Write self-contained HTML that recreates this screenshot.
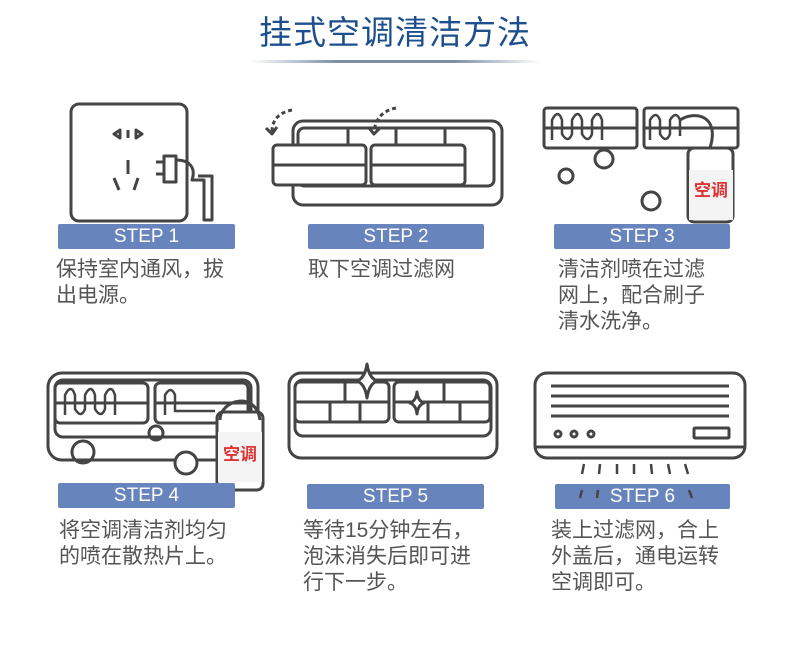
<!DOCTYPE html>
<html><head><meta charset="utf-8"><style>
body{margin:0;width:790px;height:653px;background:#fff;position:relative;overflow:hidden;font-family:"Liberation Sans","Noto Sans CJK SC",sans-serif}
.t{position:absolute;left:0;width:790px;top:6px;text-align:center;font-size:33px;color:#1d4f8f;letter-spacing:1px}
.ln{position:absolute;left:250px;top:60px;width:290px;height:3px;background:linear-gradient(90deg,rgba(120,140,165,0),#7d8ea5 30%,#7d8ea5 70%,rgba(120,140,165,0))}
.b{position:absolute;height:25px;background:#6884bd;color:#fff;font-size:19px;text-align:center;line-height:25px;border-radius:2px}
.d{position:absolute;font-size:21px;color:#555;line-height:26px}
svg{position:absolute;left:0;top:0}
</style></head><body>
<div class="t">挂式空调清洁方法</div>
<div class="ln"></div>
<svg width="790" height="653" fill="none" stroke="#444" stroke-width="3" stroke-linejoin="round">
<!-- step1 -->
<rect x="71" y="104" width="116" height="117" rx="8"/>
<path d="M120 130 l-6 4 6 4z M128 130 v8 M136 130 l6 4 -6 4z"/>
<path d="M128 160 v14 M114 178 l5 12 M138 178 l-4 12"/>
<path d="M156 162 h8 M156 174 h8 M164 156 h12 v26 h-12z M176 160 c14 0 20 8 16 20 h12 v40 h8 v-44 h-14"/>
<!-- step2 -->
<rect x="293" y="121" width="209" height="84" rx="10"/>
<rect x="298" y="128" width="196" height="58" rx="6"/>
<line x1="348" y1="128" x2="348" y2="146"/><line x1="445" y1="128" x2="445" y2="146"/><line x1="396" y1="128" x2="396" y2="186"/>
<rect x="273" y="145" width="93" height="40" rx="4" fill="#fff"/>
<rect x="371" y="145" width="94" height="40" rx="4" fill="#fff"/>
<line x1="273" y1="165" x2="366" y2="165"/><line x1="371" y1="165" x2="465" y2="165"/>
<path d="M292 110 q-20 4 -20 22" stroke-dasharray="4 3"/><path d="M266 128 l6 6 5-7"/>
<path d="M396 108 q-20 4 -22 24" stroke-dasharray="4 3"/><path d="M369 128 l5 6 6-6"/>
<!-- step3 -->
<rect x="544" y="108" width="93" height="40" rx="3"/><rect x="644" y="108" width="94" height="40" rx="3"/>
<line x1="544" y1="128" x2="637" y2="128"/><line x1="644" y1="128" x2="738" y2="128"/>
<path d="M552 140 v-20 q6 -12 10 0 v14 q6 10 10 0 v-14 q6 -12 10 0 v14 q6 10 10 0 v-14 q6 -12 10 0 v20" stroke-width="2.5"/>
<path d="M650 140 v-20 q6 -10 10 0 v14 q6 10 10 0 v-14 q6 -10 10 0 v16" stroke-width="2.5"/>
<circle cx="604" cy="159" r="9"/><circle cx="566" cy="176" r="7"/><circle cx="651" cy="201" r="9"/>
<path d="M680 120 c16 -10 40 -4 30 28" />
<rect x="688" y="148" width="45" height="74" rx="6" fill="#fff"/>
<!-- step4 -->
<rect x="48" y="373" width="210" height="87" rx="14"/>
<rect x="55" y="380" width="196" height="57" rx="8"/>
<rect x="55" y="383" width="93" height="40" rx="5"/><rect x="155" y="383" width="93" height="40" rx="5"/>
<line x1="55" y1="403" x2="148" y2="403"/><line x1="155" y1="403" x2="248" y2="403"/>
<path d="M65 415 v-20 q6 -12 10 0 v14 q6 10 10 0 v-14 q6 -12 10 0 v14 q6 10 10 0 v-14 q6 -12 10 0 v20" stroke-width="2.5"/>
<path d="M165 415 v-20 q6 -10 10 0 v16 h40" stroke-width="2.5"/>
<circle cx="156" cy="433" r="7"/><circle cx="83" cy="452" r="11"/><circle cx="186" cy="463" r="11" fill="#fff"/>
<rect x="217" y="412" width="46" height="78" rx="6" fill="#fff"/>
<path d="M220 420 c0 -20 36 -30 40 0"/>
<!-- step5 -->
<rect x="289" y="373" width="208" height="85" rx="12"/>
<rect x="295" y="380" width="196" height="56" rx="8"/>
<rect x="295" y="382" width="94" height="40" rx="5"/><rect x="394" y="382" width="96" height="40" rx="5"/>
<line x1="295" y1="402" x2="389" y2="402"/><line x1="394" y1="402" x2="490" y2="402"/>
<line x1="330" y1="402" x2="330" y2="422"/><line x1="360" y1="402" x2="360" y2="422"/><line x1="345" y1="382" x2="345" y2="402"/>
<line x1="428" y1="402" x2="428" y2="422"/><line x1="460" y1="402" x2="460" y2="422"/><line x1="444" y1="382" x2="444" y2="402"/>
<path d="M367 364 q2 14 10 17 q-8 3 -10 17 q-2 -14 -10 -17 q8 -3 10 -17z" fill="#fff"/>
<path d="M417 392 q1 9 7 11 q-6 2 -7 11 q-1 -9 -7 -11 q6 -2 7 -11z" fill="#fff"/>
<!-- step6 -->
<rect x="535" y="373" width="210" height="85" rx="12"/>
<line x1="535" y1="447" x2="745" y2="447"/>
<line x1="551" y1="386" x2="729" y2="386"/><line x1="551" y1="396" x2="729" y2="396"/><line x1="551" y1="406" x2="729" y2="406"/><line x1="551" y1="416" x2="729" y2="416"/>
<circle cx="558" cy="434" r="3"/><circle cx="574" cy="434" r="3"/><circle cx="591" cy="434" r="3"/>
<rect x="694" y="428" width="35" height="10" rx="1"/>
</svg>
<div class="b" style="left:58px;top:224px;width:177px">STEP 1</div>
<div class="b" style="left:308px;top:224px;width:176px">STEP 2</div>
<div class="b" style="left:554px;top:224px;width:176px">STEP 3</div>
<div class="b" style="left:58px;top:483px;width:177px">STEP 4</div>
<div class="b" style="left:307px;top:484px;width:177px">STEP 5</div>
<div class="b" style="left:555px;top:484px;width:175px">STEP 6</div>
<svg width="790" height="653" stroke="#444" stroke-width="2.5">
<path d="M584 464 l-2 10 M600 464 l-1 10 M617 464 v10 M634 464 v10 M651 464 l1 10 M668 464 l2 10 M685 464 l3 10 M582 490 l-2 8 M598 490 l-1 8 M689 490 l3 8"/>
<rect x="689" y="170" width="44" height="50" fill="#f4f4f4" stroke="none"/>
<text x="711" y="196" font-size="17" fill="#d33" stroke="none" text-anchor="middle" font-family="Noto Sans CJK SC" font-weight="bold">空调</text>
<rect x="218" y="432" width="44" height="50" fill="#f4f4f4" stroke="none"/>
<text x="240" y="460" font-size="17" fill="#d33" stroke="none" text-anchor="middle" font-family="Noto Sans CJK SC" font-weight="bold">空调</text>
</svg>
<div class="d" style="left:56px;top:257px">保持室内通风，拔<br>出电源。</div>
<div class="d" style="left:308px;top:257px">取下空调过滤网</div>
<div class="d" style="left:558px;top:257px">清洁剂喷在过滤<br>网上，配合刷子<br>清水洗净。</div>
<div class="d" style="left:59px;top:518px">将空调清洁剂均匀<br>的喷在散热片上。</div>
<div class="d" style="left:303px;top:518px">等待15分钟左右，<br>泡沫消失后即可进<br>行下一步。</div>
<div class="d" style="left:551px;top:518px">装上过滤网，合上<br>外盖后，通电运转<br>空调即可。</div>
</body></html>
